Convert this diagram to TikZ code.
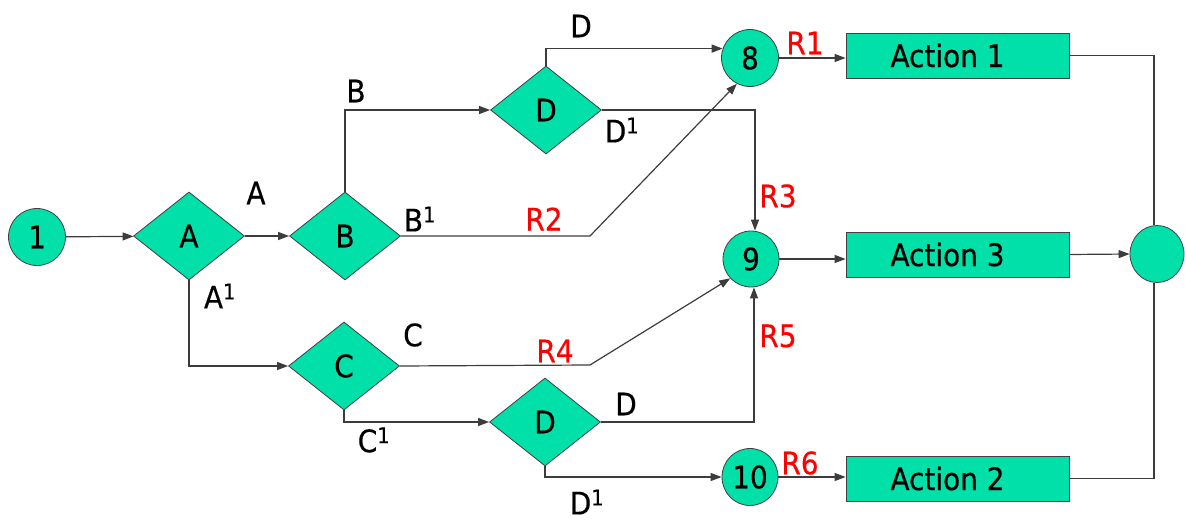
\documentclass[tikz,border=0pt]{standalone}
\usepackage{fontspec}
\setmainfont[FakeStretch=0.9,FakeBold=0.4]{DejaVu Sans}
\usetikzlibrary{shapes.geometric,arrows.meta}
\definecolor{nodegreen}{RGB}{0,224,168}
\definecolor{linegray}{RGB}{60,60,60}
\begin{document}
\begin{tikzpicture}[x=1pt,y=-1pt,
  every node/.style={font=\fontsize{31}{33}\selectfont},
  dec/.style={diamond, draw=black!75, fill=nodegreen, line width=0.8pt, minimum width=111pt, minimum height=88pt, inner sep=0pt},
  circ/.style={ellipse, draw=black!75, fill=nodegreen, line width=0.8pt, minimum width=57pt, minimum height=57pt, inner sep=0pt},
  act/.style={rectangle, draw=black!75, fill=nodegreen, line width=0.8pt, minimum width=223pt, minimum height=45pt, inner sep=0pt},
  conn/.style={draw=linegray, line width=1.2pt},
  arr/.style={conn, -{Triangle[length=11pt,width=8pt]}},
  lab/.style={inner sep=0pt},
  rlab/.style={lab, text=red}]
\useasboundingbox (0,0) rectangle (1185,521);

% nodes
\node[circ] (n1) at (37,237) {1};
\node[dec] (A) at (189,236) {A};
\node[dec] (B) at (345,236) {B};
\node[dec] (D1) at (546,110) {D};
\node[dec] (C) at (344,366) {C};
\node[dec] (D2) at (545,422) {D};
\node[circ] (n8) at (750,58) {8};
\node[circ, minimum width=56pt, minimum height=56pt] (n9) at (751,259) {9};
\node[circ, minimum width=56pt] (n10) at (750,477) {10};
\node[circ, minimum width=54pt] (fin) at (1157,254) {};
\node[act] (act1) at (957.5,55.5) {Action 1\kern20pt};
\node[act] (act3) at (957.5,254.5) {Action 3\kern20pt};
\node[act] (act2) at (957.5,478.5) {Action 2\kern20pt};

\coordinate (r2) at (590,236);
\coordinate (r4) at (590,365);

% connectors
\draw[arr] (n1) -- (A);
\draw[arr] (A) -- (B);
\draw[arr] (B.north) |- (D1.west);
\draw[arr] (D1.north) |- (n8.161);
\draw[arr] (D1.east) -| ([xshift=4pt]n9.north);
\draw[arr] (B.east) -- (r2) -- (n8.243);
\draw[arr] (A.south) |- (C.west);
\draw[arr] (C.east) -- (r4) -- (n9.223);
\draw[arr] (C.south) |- (D2.west);
\draw[arr] (D2.east) -| ([xshift=3pt]n9.south);
\draw[arr] (D2.south) |- (n10.west);
\draw[arr] (n8.east) -- (n8.east -| act1.west);
\draw[arr] (n9.east) -- (n9.east -| act3.west);
\draw[arr] (n10.east) -- (n10.east -| act2.west);
\draw[conn] (act1.east) -| ([xshift=-3pt]fin.north);
\draw[arr] (act3.east) -- (fin.west);
\draw[conn] (act2.east) -| ([xshift=-3pt]fin.south);

% labels
\node[lab] (lA) at (256,193) {A};
\node[lab] (lA1) at (220,296) {A\textsuperscript{1}};
\node[lab] (lB) at (356,91) {B};
\node[lab] (lB1) at (420,219) {B\textsuperscript{1}};
\node[lab] (lD) at (581,26) {D};
\node[lab] (lD1) at (622,130) {D\textsuperscript{1}};
\node[lab] (lC) at (413,335) {C};
\node[lab] (lC1) at (374,440) {C\textsuperscript{1}};
\node[lab] (lD2) at (626,404) {D};
\node[lab] (lD21) at (587,502) {D\textsuperscript{1}};
\node[rlab] (lR1) at (805,43) {R1};
\node[rlab] (lR2) at (544,219) {R2};
\node[rlab] (lR3) at (778,196) {R3};
\node[rlab] (lR4) at (555,351) {R4};
\node[rlab] (lR5) at (778,336) {R5};
\node[rlab] (lR6) at (800,463) {R6};
\end{tikzpicture}
\end{document}
